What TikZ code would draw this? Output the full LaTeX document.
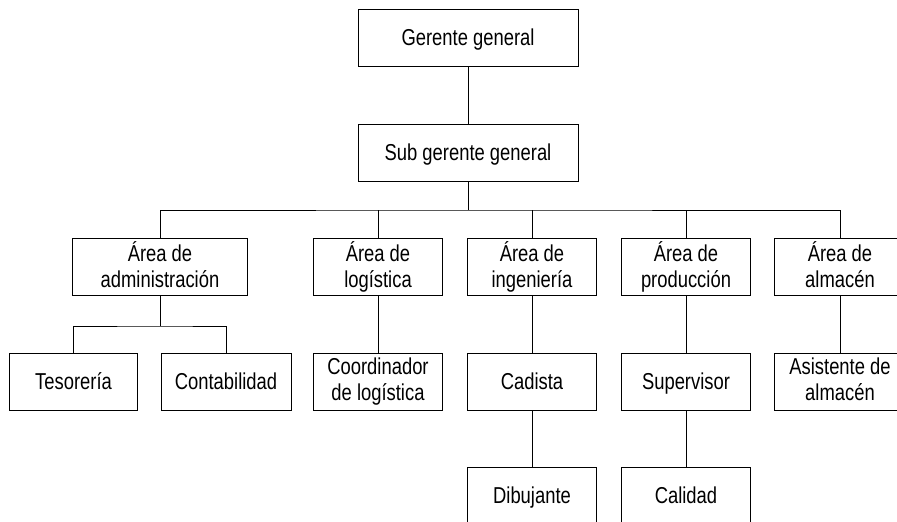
\documentclass[tikz,border=0pt]{standalone}
\usepackage{fontspec}
\setmainfont[FakeStretch=0.8]{Liberation Sans}
\usetikzlibrary{positioning}
\newcommand{\boxstrut}{\rule[-4.6pt]{0pt}{25.6pt}}
\tikzset{
  box/.style={draw, line width=1pt, minimum height=57, inner sep=0, align=center,
    font=\fontsize{23}{26.5}\selectfont,
    execute at begin node=\boxstrut, execute at end node=\boxstrut},
  link/.style={line width=1pt}
}
\begin{document}
\begin{tikzpicture}[x=1pt, y=-1pt]
      \useasboundingbox (0,0) rectangle (897,522);
      \clip (0,0) rectangle (897,522);
      \node[box, minimum width=220] (gg) at (468,37.5) {Gerente general};
      \node[box, minimum width=220] (sg) at (468,152.5) {Sub gerente general};

      \node[box, minimum width=175] (adm) at (160,267) {Área de\\administración};
      \node[box, minimum width=129] (log) at (378,267) {Área de\\logística};
      \node[box, minimum width=129] (ing) at (532,267) {Área de\\ingeniería};
      \node[box, minimum width=129] (pro) at (686,267) {Área de\\producción};
      \node[box, minimum width=131] (alm) at (840,267) {Área de\\almacén};

      \node[box, minimum width=128] (tes) at (73.5,381.5) {Tesorería};
      \node[box, minimum width=130] (con) at (226,381.5) {Contabilidad};
      \node[box, minimum width=129] (coo) at (378,381.5) {Coordinador\\de logística};
      \node[box, minimum width=129] (cad) at (532,381.5) {Cadista};
      \node[box, minimum width=129] (sup) at (686,381.5) {Supervisor};
      \node[box, minimum width=131] (asi) at (840,381.5) {Asistente de\\almacén};

      \node[box, minimum width=129] (dib) at (532,495.5) {Dibujante};
      \node[box, minimum width=129] (cal) at (686,495.5) {Calidad};

      \coordinate (bus) at (468,210);
      \coordinate (admbus) at (160,326);

      \draw[link] (gg) -- (sg);
      \draw[link] (sg) -- (bus);
      \draw[link] (adm.north) |- (bus) -| (alm.north);
      \foreach \n in {log,ing,pro}
        \draw[link] (\n.north) -- (\n.north |- bus);

      \draw[link] (adm) -- (admbus);
      \draw[link] (tes.north) |- (admbus) -| (con.north);

      \draw[link] (log) -- (coo);
      \draw[link] (ing) -- (cad);
      \draw[link] (cad) -- (dib);
      \draw[link] (pro) -- (sup);
      \draw[link] (sup) -- (cal);
      \draw[link] (alm) -- (asi);
    \end{tikzpicture}
\end{document}
